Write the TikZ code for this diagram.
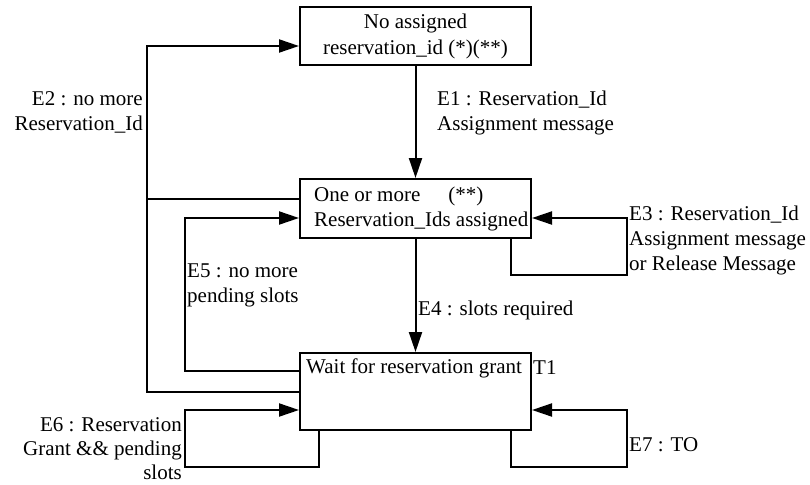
\documentclass[tikz,border=0pt]{standalone}
\usepackage{fontspec}
\setmainfont{Liberation Serif}
\usetikzlibrary{arrows.meta, positioning}

\begin{document}
\begin{tikzpicture}[x=1pt, y=-1pt,
  statebox/.style={draw, line width=2pt, minimum width=231pt, inner sep=0pt, align=center,
    font=\fontsize{21}{26}\selectfont},
  link/.style={line width=2pt},
  flow/.style={link, -{Triangle[length=20pt, width=13pt]}},
  tlabel/.style={inner sep=0pt, font=\fontsize{21}{25}\selectfont}]
\useasboundingbox (0,0) rectangle (810,484);

% States
\node[statebox, minimum height=58pt] (noid) at (415.5,36) {No assigned\\reservation\_id (*)(**)};
\node[statebox, minimum height=59pt] (ids) at (415.5,208.5) {};
\node[statebox, minimum height=77pt] (wait) at (415.5,391.5) {};
\node[tlabel, anchor=west, align=left] (idstext) at (314,208.5) {One or more\hspace{28pt}(**)\\Reservation\_Ids assigned};
\node[tlabel, anchor=west] (waittext) at (306,368) {Wait for reservation grant};
\node[tlabel, anchor=west] (t1) at (533,368) {T1};

% Loop corners
\coordinate (e2top) at (147,46);
\coordinate (e2mid) at (147,199);
\coordinate (e5out) at (185,371);
\coordinate (e5back) at (185,218);
\coordinate (e3foot) at (511,275);
\coordinate (e3back) at (627,218);
\coordinate (e6foot) at (319,467);
\coordinate (e6back) at (185,410);
\coordinate (e7foot) at (511,467);
\coordinate (e7back) at (627,410);

% Transitions
\draw[flow] (noid) -- (ids);
\draw[flow] (ids) -- (wait);
\draw[flow] (wait.west) -| (e2top) -- (e2top -| noid.west);
\draw[link] (e2mid -| ids.west) -- (e2mid);
\draw[flow] (e5out -| wait.west) -| (e5back) -- (e5back -| ids.west);
\draw[flow] (e3foot |- ids.south) -- (e3foot) -| (e3back) -- (e3back -| ids.east);
\draw[flow] (e6foot |- wait.south) -- (e6foot) -| (e6back) -- (e6back -| wait.west);
\draw[flow] (e7foot |- wait.south) -- (e7foot) -| (e7back) -- (e7back -| wait.east);

% Event labels
\node[tlabel, anchor=west, align=left] (e1) at (437,113) {E1 : Reservation\_Id\\Assignment message};
\node[tlabel, anchor=east, align=right] (e2) at (143,112) {E2 : no more\\Reservation\_Id};
\node[tlabel, anchor=west, align=left] (e3) at (629,240.5) {E3 : Reservation\_Id\\Assignment message\\or Release Message};
\node[tlabel, anchor=west] (e4) at (418,310) {E4 : slots required};
\node[tlabel, anchor=west, align=left] (e5) at (187,285.5) {E5 : no more\\pending slots};
\node[tlabel, anchor=east, align=right, font=\fontsize{21}{24}\selectfont] (e6) at (182,449) {E6 : Reservation\\Grant \&\& pending\\slots};
\node[tlabel, anchor=west] (e7) at (629,445) {E7 : TO};
\end{tikzpicture}
\end{document}
